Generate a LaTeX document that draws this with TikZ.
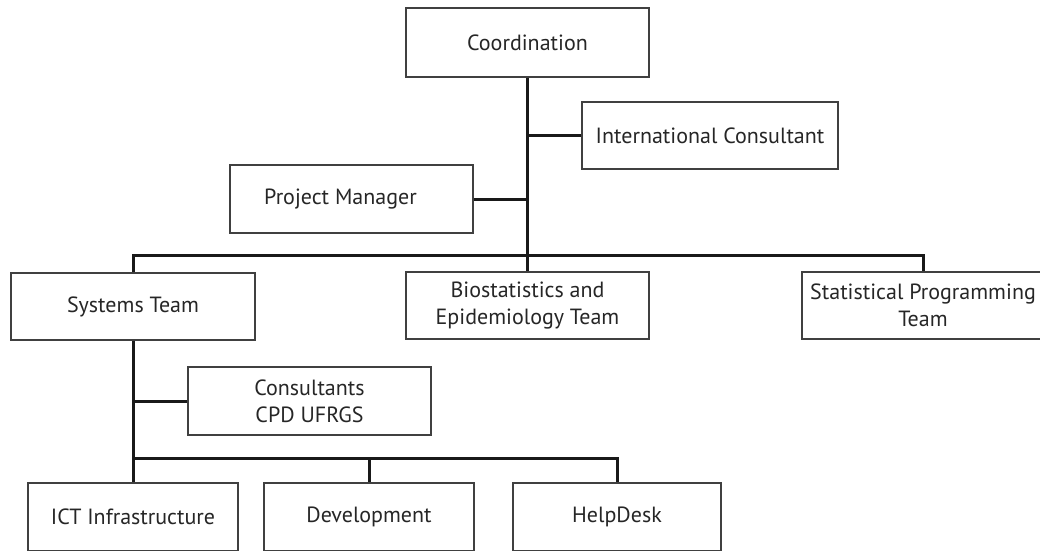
\documentclass[tikz,border=0pt]{standalone}
\usepackage{fontspec}
\setmainfont{PT Sans}
\begin{document}
\begin{tikzpicture}[x=1pt,y=-1pt,
  box/.style={draw=black!75, line width=1.3pt, rectangle, align=center,
    inner sep=0pt, font=\fontsize{22}{27}\selectfont, text=black!85},
  link/.style={line width=3pt, draw=black!90}]
\useasboundingbox (0,0) rectangle (1040,550);
\clip (0,0) rectangle (1040,550);

\node[box, minimum width=243pt, minimum height=69pt] (coord) at (527.5,42.5) {Coordination};
\node[box, minimum width=256pt, minimum height=67pt] (intl) at (710,135.5) {International Consultant};
\node[box, minimum width=243pt, minimum height=68pt] (pm) at (351.5,199) {Project Manager\hspace{22pt}};
\node[box, minimum width=244pt, minimum height=67pt] (sys) at (133,306.5) {Systems Team};
\node[box, minimum width=243pt, minimum height=67pt] (bio) at (527.5,305.5) {Biostatistics and\\Epidemiology Team};
\node[box, minimum width=242pt, minimum height=67pt] (stat) at (923,305.5) {Statistical Programming\\Team};
\node[box, minimum width=243pt, minimum height=68pt] (cons) at (309.5,401) {Consultants\\CPD UFRGS};
\node[box, minimum width=210pt, minimum height=68pt] (ict) at (133,517) {ICT Infrastructure};
\node[box, minimum width=210pt, minimum height=68pt] (dev) at (369,517) {Development};
\node[box, minimum width=208pt, minimum height=68pt] (help) at (617,517) {HelpDesk};

\coordinate (hl) at (0,255);
\coordinate (hl2) at (0,458);

\draw[link] (coord.south) -- (bio.north);
\draw[link] (intl.west) -- (coord.south |- intl.west);
\draw[link] (pm.east) -- (coord.south |- pm.east);
\draw[link] (sys.north) -- (sys.north |- hl) -- (stat.north |- hl) -- (stat.north);

\draw[link] (sys.south) -- (ict.north);
\draw[link] (cons.west) -- (sys.south |- cons.west);
\draw[link] (sys.south |- hl2) -- (help.north |- hl2) -- (help.north);
\draw[link] (dev.north |- hl2) -- (dev.north);
\end{tikzpicture}
\end{document}
